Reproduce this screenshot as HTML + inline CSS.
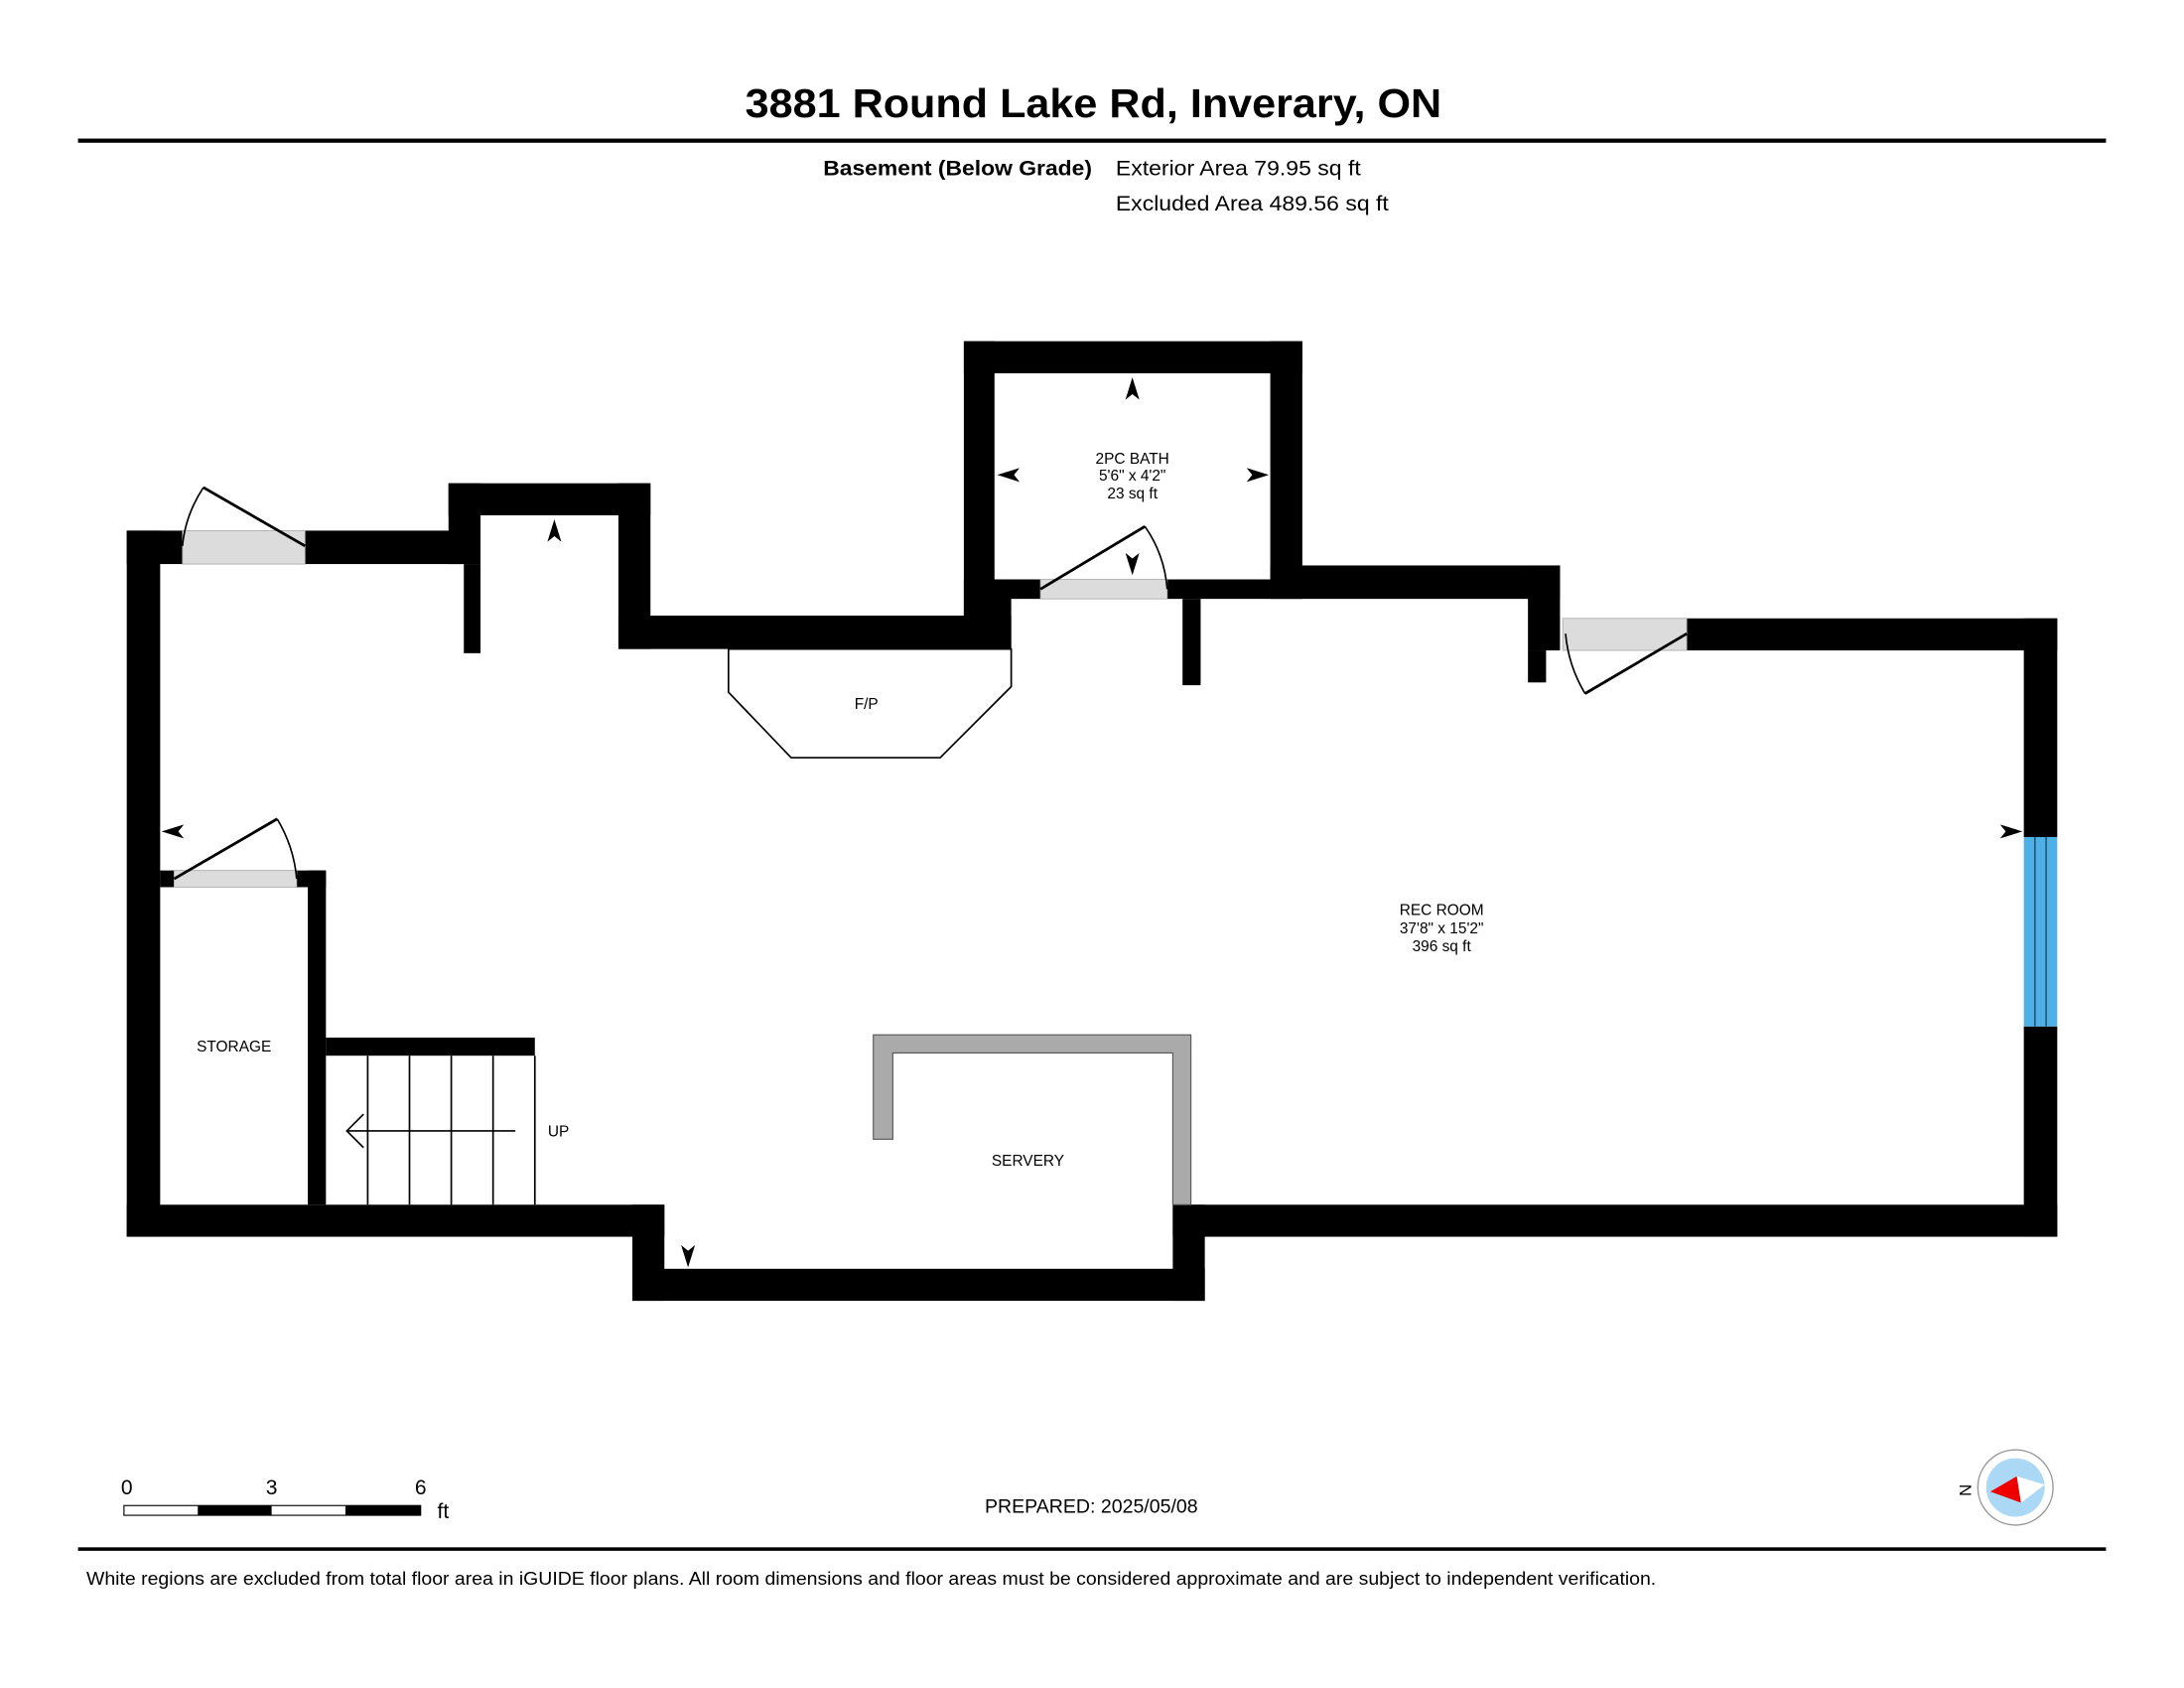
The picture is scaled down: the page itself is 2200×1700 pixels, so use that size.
<!DOCTYPE html>
<html><head><meta charset="utf-8"><style>
html,body{margin:0;padding:0;background:#fff}
svg{display:block}
text{font-family:"Liberation Sans",Arial,sans-serif}
</style></head><body>
<svg width="2200" height="1700" viewBox="0 0 1568 1212" preserveAspectRatio="none" xmlns="http://www.w3.org/2000/svg">
<rect width="1568" height="1212" fill="#fff"/>
<text x="535" y="84" font-size="29" font-weight="bold" textLength="500" lengthAdjust="spacingAndGlyphs">3881 Round Lake Rd, Inverary, ON</text>
<rect x="56" y="99.5" width="1456" height="3" fill="#000"/>
<text x="591" y="126" font-size="15" font-weight="bold" textLength="193" lengthAdjust="spacingAndGlyphs">Basement (Below Grade)</text>
<text x="801" y="126" font-size="15" textLength="176" lengthAdjust="spacingAndGlyphs">Exterior Area 79.95 sq ft</text>
<text x="801" y="151" font-size="15" textLength="196" lengthAdjust="spacingAndGlyphs">Excluded Area 489.56 sq ft</text>

<g fill="#000">
<rect x="91" y="381" width="24" height="507"/>
<rect x="91" y="381" width="40" height="24"/>
<rect x="219" y="381" width="114" height="24"/>
<rect x="322" y="347" width="23" height="58"/>
<rect x="333" y="405" width="12" height="64"/>
<rect x="322" y="347" width="145" height="23"/>
<rect x="444" y="347" width="23" height="119"/>
<rect x="444" y="442" width="282" height="24"/>
<rect x="692" y="245" width="243" height="23"/>
<rect x="692" y="245" width="22" height="221"/>
<rect x="692" y="416" width="34" height="50"/>
<rect x="714" y="416" width="33" height="14"/>
<rect x="912" y="245" width="23" height="185"/>
<rect x="838" y="416" width="74" height="14"/>
<rect x="912" y="406" width="208" height="24"/>
<rect x="849" y="430" width="13" height="62"/>
<rect x="1097" y="406" width="23" height="61"/>
<rect x="1097" y="467" width="13" height="23"/>
<rect x="1211" y="444" width="266" height="23"/>
<rect x="1453" y="444" width="24" height="157"/>
<rect x="1453" y="737" width="24" height="151"/>
<rect x="842" y="865" width="635" height="23"/>
<rect x="454" y="911" width="411" height="23"/>
<rect x="454" y="865" width="23" height="69"/>
<rect x="842" y="865" width="23" height="69"/>
<rect x="91" y="865" width="386" height="23"/>
<rect x="221" y="625" width="13" height="240"/>
<rect x="115" y="625" width="10" height="12"/>
<rect x="213" y="625" width="21" height="12"/>
<rect x="234" y="745" width="150" height="13"/>
</g>
<rect x="1453" y="601" width="24" height="136" fill="#4fb0e6"/>
<line x1="1461" y1="601" x2="1461" y2="737" stroke="#1a4a6a" stroke-width="1"/>
<line x1="1469" y1="601" x2="1469" y2="737" stroke="#1a4a6a" stroke-width="1"/>
<g fill="#dcdcdc" stroke="#aaa" stroke-width="0.6">
<rect x="131" y="381" width="88" height="24"/>
<rect x="747" y="416" width="91" height="14"/>
<rect x="1122" y="444" width="89" height="23"/>
<rect x="125" y="625" width="88" height="12"/>
</g>
<g fill="none" stroke="#000">
<line x1="219" y1="392" x2="146" y2="350" stroke-width="2"/>
<path d="M146 350 Q133 370 131 392" stroke-width="1.2"/>
<line x1="747" y1="423" x2="822" y2="378" stroke-width="2"/>
<path d="M822 378 Q836 398 838 423" stroke-width="1.2"/>
<line x1="1211" y1="455" x2="1138" y2="498" stroke-width="2"/>
<path d="M1138 498 Q1126 478 1124 455" stroke-width="1.2"/>
<line x1="125" y1="631" x2="199" y2="588" stroke-width="2"/>
<path d="M199 588 Q211 608 213 631" stroke-width="1.2"/>
</g>
<polygon points="523,466 523,497 568,544 675,544 726,493 726,466" fill="none" stroke="#000" stroke-width="1.2"/>
<g fill="#aaa" stroke="#555" stroke-width="0.8">
<path d="M627 743 H855 V865 H842 V756 H641 V818 H627 Z"/>
</g>
<g stroke="#000" stroke-width="1.2">
<line x1="264" y1="758" x2="264" y2="865"/>
<line x1="294" y1="758" x2="294" y2="865"/>
<line x1="324" y1="758" x2="324" y2="865"/>
<line x1="354" y1="758" x2="354" y2="865"/>
<line x1="384" y1="758" x2="384" y2="865"/>
<line x1="250" y1="812" x2="370" y2="812"/>
<polyline points="261,800 249,812 261,824" fill="none"/>
</g>
<g fill="#000">
<path d="M398 373 L403 389 L398 385 L393 389 Z"/>
<path d="M813 271 L818 287 L813 283 L808 287 Z"/>
<path d="M813 413 L818 397 L813 401 L808 397 Z"/>
<path d="M494 910 L499 894 L494 898 L489 894 Z"/>
<path d="M716 341 L732 336 L728 341 L732 346 Z"/>
<path d="M911 341 L895 336 L899 341 L895 346 Z"/>
<path d="M116 597 L132 592 L128 597 L132 602 Z"/>
<path d="M1452 597 L1436 592 L1440 597 L1436 602 Z"/>
</g>
<g font-size="11" text-anchor="middle">
<text x="813" y="333">2PC BATH</text>
<text x="813" y="345">5'6" x 4'2"</text>
<text x="813" y="358">23 sq ft</text>
<text x="622" y="509">F/P</text>
<text x="1035" y="657">REC ROOM</text>
<text x="1035" y="670">37'8" x 15'2"</text>
<text x="1035" y="683">396 sq ft</text>
<text x="168" y="755">STORAGE</text>
<text x="401" y="816">UP</text>
<text x="738" y="837">SERVERY</text>
</g>
<g font-size="15">
<text x="91" y="1073" text-anchor="middle">0</text>
<text x="195" y="1073" text-anchor="middle">3</text>
<text x="302" y="1073" text-anchor="middle">6</text>
<text x="314" y="1090">ft</text>
</g>
<rect x="89" y="1081" width="213" height="7" fill="#fff" stroke="#000" stroke-width="0.8"/>
<rect x="142" y="1081" width="53" height="7" fill="#000"/>
<rect x="248" y="1081" width="54" height="7" fill="#000"/>
<text x="707" y="1086" font-size="14" textLength="153" lengthAdjust="spacingAndGlyphs">PREPARED: 2025/05/08</text>
<circle cx="1447" cy="1068" r="27" fill="#fff" stroke="#999" stroke-width="1"/>
<circle cx="1447" cy="1068" r="21" fill="#aad8f5"/>
<polygon points="1429,1071 1448,1060 1451,1079" fill="#e00"/>
<polygon points="1448,1060 1468,1066 1451,1079" fill="#fff"/>
<text x="1411" y="1074" font-size="12" text-anchor="middle" transform="rotate(-90 1411 1070)">N</text>
<rect x="56" y="1111" width="1456" height="2.5" fill="#000"/>
<text x="62" y="1138" font-size="13" textLength="1127" lengthAdjust="spacingAndGlyphs">White regions are excluded from total floor area in iGUIDE floor plans. All room dimensions and floor areas must be considered approximate and are subject to independent verification.</text>
</svg>
</body></html>
